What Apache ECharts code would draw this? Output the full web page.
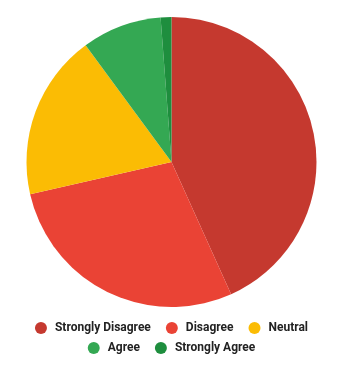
<!DOCTYPE html>
<html><head><meta charset="utf-8">
<script src="https://cdn.jsdelivr.net/npm/echarts@6/dist/echarts.min.js"></script>
<style>html,body{margin:0;padding:0;background:#fff}#c{width:343px;height:371px}</style>
</head><body><div id="c"></div>
<script>
const categories = ["Strongly Disagree", "Disagree", "Neutral", "Agree", "Strongly Agree"];
const values = [43.3, 28.2, 18.5, 8.9, 1.2];
const colors = ["#c5392f", "#ea4335", "#fbbc04", "#34a853", "#1e8e3e"];
const legendRow1 = categories.slice(0, 3);
const legendRow2 = categories.slice(3);
const chart = echarts.init(document.getElementById('c'), null, {renderer: 'canvas'});
const legendBase = {
  left: 'center', orient: 'horizontal', padding: 0,
  icon: 'circle', itemWidth: 12, itemHeight: 12, itemGap: 15,
  textStyle: {fontFamily: 'Roboto', fontSize: 12, fontWeight: 'bold', color: '#222', padding: [0, 0, 0, 3]}
};
chart.setOption({
  animation: false,
  color: colors,
  legend: [
    Object.assign({}, legendBase, {top: 322, data: legendRow1}),
    Object.assign({}, legendBase, {top: 342, data: legendRow2})
  ],
  series: [{
    type: 'pie', center: [171.5, 162], radius: 145, startAngle: 90, clockwise: true,
    label: {show: false}, labelLine: {show: false},
    itemStyle: {borderWidth: 0},
    emphasis: {disabled: true},
    data: categories.map((n, i) => ({name: n, value: values[i]}))
  }]
});
</script></body></html>
